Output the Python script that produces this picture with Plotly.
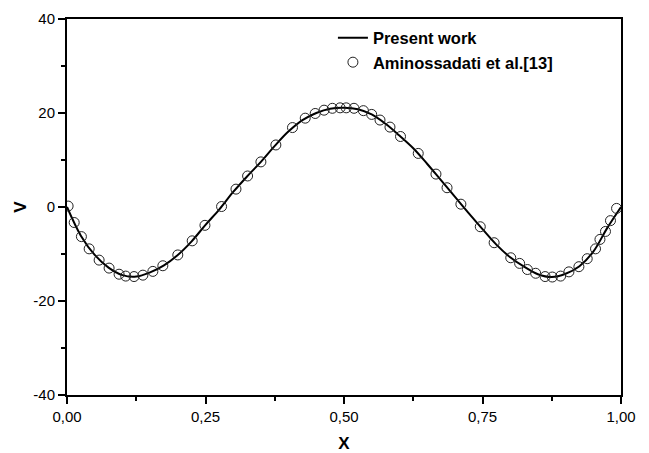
import plotly.graph_objects as go

# Present work (solid line)
line_x = [0.0, 0.025, 0.05, 0.075, 0.1, 0.125, 0.15, 0.175, 0.2, 0.225, 0.25,
          0.275, 0.3, 0.325, 0.35, 0.375, 0.4, 0.425, 0.45, 0.475, 0.5,
          0.525, 0.55, 0.575, 0.6, 0.625, 0.65, 0.675, 0.7, 0.725, 0.75,
          0.775, 0.8, 0.825, 0.85, 0.875, 0.9, 0.925, 0.95, 0.975, 1.0]
line_v = [0.0, -6.1, -10.2, -12.9, -14.5, -14.8, -13.9, -12.4, -10.2, -7.3, -3.8,
          -0.5, 3.2, 6.5, 9.6, 13.0, 16.1, 18.5, 20.0, 20.9, 21.1,
          20.8, 19.7, 17.7, 15.2, 12.5, 9.2, 5.7, 2.2, -1.3, -4.7,
          -8.0, -10.7, -12.7, -14.3, -14.9, -14.2, -12.6, -9.5, -4.5, 0.0]

# Aminossadati et al.[13] (open circles)
ref_x = [0.002, 0.013, 0.026, 0.040, 0.058, 0.076, 0.094, 0.106, 0.121, 0.137,
         0.155, 0.173, 0.200, 0.226, 0.249, 0.279, 0.305, 0.326, 0.350, 0.377,
         0.407, 0.430, 0.448, 0.464, 0.479, 0.493, 0.504, 0.518, 0.535, 0.550,
         0.565, 0.583, 0.602, 0.634, 0.666, 0.686, 0.711, 0.746, 0.771, 0.801,
         0.817, 0.831, 0.846, 0.863, 0.876, 0.891, 0.906, 0.924, 0.939, 0.954,
         0.962, 0.972, 0.981, 0.992]
ref_v = [0.2, -3.3, -6.3, -8.9, -11.3, -13.0, -14.3, -14.7, -14.8, -14.5,
         -13.7, -12.5, -10.2, -7.2, -3.9, 0.1, 3.8, 6.6, 9.6, 13.2,
         16.9, 18.9, 19.9, 20.6, 21.0, 21.1, 21.1, 21.0, 20.5, 19.7,
         18.5, 17.0, 15.0, 11.4, 7.0, 4.1, 0.6, -4.2, -7.6, -10.8,
         -12.0, -13.3, -14.1, -14.8, -14.9, -14.7, -13.8, -12.7, -11.0, -8.9,
         -6.9, -5.2, -2.9, -0.3]

x_ticks = [0.0, 0.25, 0.5, 0.75, 1.0]
y_ticks = [-40, -20, 0, 20, 40]
y_tick_labels = ["-40", "-20", "0", "20", "40"]

font_family = "Liberation Sans, Arial, sans-serif"

fig = go.Figure()
fig.add_trace(go.Scatter(
    x=line_x, y=line_v, mode="lines", name="<b>Present work</b>",
    line=dict(color="black", width=2, shape="spline", smoothing=1.0),
))
fig.add_trace(go.Scatter(
    x=ref_x, y=ref_v, mode="markers", name="<b>Aminossadati et al.[13]</b>",
    marker=dict(symbol="circle-open", size=10, color="#222222",
                line=dict(width=1, color="#222222")),
))

axis_common = dict(
    showline=True, linecolor="black", linewidth=2, mirror=True,
    ticks="outside", ticklen=7, tickwidth=2, tickcolor="black",
    showgrid=False, zeroline=False, automargin=False,
    tickfont=dict(family=font_family, size=15, color="black"),
)

fig.update_xaxes(
    range=[0, 1], tickvals=x_ticks, tickformat=".2f",
    minor=dict(ticks="outside", ticklen=4, tickwidth=2, tickcolor="black", dtick=0.125, tick0=0),
    title=dict(text="<b>X</b>", font=dict(family=font_family, size=17, color="black"), standoff=16),
    **axis_common,
)
fig.update_yaxes(
    range=[-40, 40], tickvals=y_ticks, ticktext=y_tick_labels,
    minor=dict(ticks="outside", ticklen=4, tickwidth=2, tickcolor="black", dtick=10, tick0=0),
    title=dict(text="<b>V</b>", font=dict(family=font_family, size=17, color="black"), standoff=2),
    **axis_common,
)

# the page body adds an 8px offset, so the figure is sized to fit the window
fig.update_layout(
    width=641, height=445,
    margin=dict(l=59, r=28, t=11, b=58),
    paper_bgcolor="white", plot_bgcolor="white",
    separators=",.",
    font=dict(family=font_family, color="black"),
    showlegend=True,
    legend=dict(x=0.48, y=0.996, xanchor="left", yanchor="top",
                bgcolor="rgba(0,0,0,0)", borderwidth=0,
                font=dict(family=font_family, size=16.5, color="black"),
                tracegroupgap=0, itemwidth=30),
)

fig.write_html("out.html")
